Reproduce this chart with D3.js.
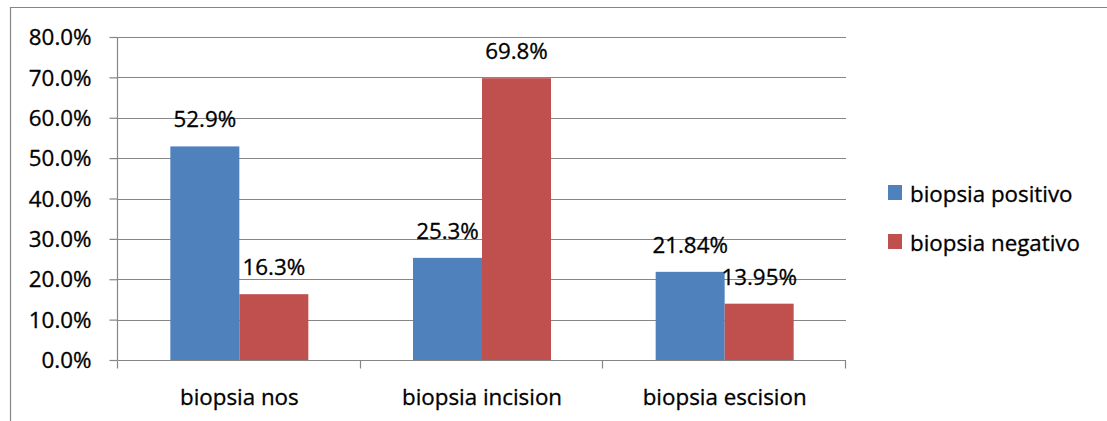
<!DOCTYPE html>
<html>
<head>
<meta charset="utf-8">
<script src="https://cdn.jsdelivr.net/npm/d3@7"></script>
<style>
  html, body { margin: 0; padding: 0; background: #fff; }
  svg { display: block; }
  text { font-family: "Open Sans", "Noto Sans", sans-serif; fill: #000; stroke: #000; stroke-width: 0.3px; }
</style>
</head>
<body>
<svg id="chart" width="1107" height="421"></svg>
<script>
const categories = ["biopsia nos", "biopsia incision", "biopsia escision"];
const seriesNames = ["biopsia positivo", "biopsia negativo"];
const positivo = [52.9, 25.3, 21.84];
const negativo = [16.3, 69.8, 13.95];
const labelsPositivo = ["52.9%", "25.3%", "21.84%"];
const labelsNegativo = ["16.3%", "69.8%", "13.95%"];
const yTicks = [0, 10, 20, 30, 40, 50, 60, 70, 80];
const colors = ["#4F81BD", "#C0504D"];

const SX = 1.04;         // horizontal text stretch
const FS = 21.5;         // font size
const svg = d3.select("#chart");

// outer frame (top and left visible)
svg.append("path")
  .attr("d", "M10.5,421 V7.5 H1107")
  .attr("fill", "none").attr("stroke", "#868686").attr("stroke-width", 1.2);

const plot = { left: 118, right: 846, top: 37, bottom: 360 };
const x0 = d3.scaleBand().domain(categories).range([plot.left, plot.right]).paddingInner(0).paddingOuter(0);
const y = d3.scaleLinear().domain([0, 80]).range([plot.bottom, plot.top]);
const groupW = 138;
const x1 = d3.scaleBand().domain(seriesNames).range([0, groupW]);

function stretch(sel) {
  sel.each(function () {
    const t = d3.select(this);
    const xv = +t.attr("x") || 0, yv = +t.attr("y") || 0;
    t.attr("x", 0).attr("y", 0)
     .attr("transform", `translate(${xv},${yv}) scale(${SX},1)`);
  });
}

// gridlines
svg.append("g").selectAll("line").data(yTicks).join("line")
  .attr("x1", plot.left).attr("x2", plot.right)
  .attr("y1", d => Math.round(y(d)) + 0.5).attr("y2", d => Math.round(y(d)) + 0.5)
  .attr("stroke", "#868686").attr("stroke-width", 1.2);

// y axis
const yAxis = svg.append("g").attr("transform", `translate(${plot.left - 0.5},0)`)
  .call(d3.axisLeft(y).tickValues(yTicks).tickSize(8).tickPadding(0)
        .tickFormat(d => d.toFixed(1) + "%"));
yAxis.select(".domain").attr("stroke", "#868686").attr("stroke-width", 1.2)
  .attr("d", `M0,${plot.top}V${plot.bottom}`);
yAxis.selectAll(".tick line").attr("stroke", "#868686").attr("stroke-width", 1.2);
yAxis.selectAll(".tick text")
  .attr("font-size", FS).attr("font-family", "Open Sans")
  .attr("dy", null)
  .attr("x", -26).attr("y", 7.7).attr("fill", "#000")
  .attr("text-anchor", "end");
stretch(yAxis.selectAll(".tick text"));

// x axis
const xAxis = svg.append("g").attr("transform", `translate(0,${plot.bottom + 0.5})`)
  .call(d3.axisBottom(x0).tickSize(0).tickPadding(0));
xAxis.select(".domain").attr("stroke", "#868686").attr("stroke-width", 1.2)
  .attr("d", `M${plot.left},0H${plot.right}`);
xAxis.selectAll(".tick text")
  .attr("font-size", FS).attr("font-family", "Open Sans")
  .attr("dy", null).attr("y", 44.5).attr("fill", "#000");
stretch(xAxis.selectAll(".tick text"));
// category boundary ticks
const bounds = [plot.left, ...categories.map(c => x0(c) + x0.bandwidth())];
xAxis.append("g").selectAll("line").data(bounds).join("line")
  .attr("x1", d => Math.round(d) - 0.5).attr("x2", d => Math.round(d) - 0.5)
  .attr("y1", 0).attr("y2", 8)
  .attr("stroke", "#868686").attr("stroke-width", 1.2);

// bars
const data = categories.map((c, i) => ({
  cat: c,
  vals: [
    { s: seriesNames[0], v: positivo[i], lab: labelsPositivo[i], col: colors[0] },
    { s: seriesNames[1], v: negativo[i], lab: labelsNegativo[i], col: colors[1] }
  ]
}));
const groups = svg.append("g").selectAll("g").data(data).join("g")
  .attr("transform", d => `translate(${x0(d.cat) + (x0.bandwidth() - groupW) / 2},0)`);
groups.selectAll("rect").data(d => d.vals).join("rect")
  .attr("x", d => x1(d.s)).attr("width", x1.bandwidth())
  .attr("y", d => y(d.v)).attr("height", d => y(0) - y(d.v))
  .attr("fill", d => d.col);
const labs = groups.selectAll("text").data(d => d.vals).join("text")
  .attr("x", d => x1(d.s) + x1.bandwidth() / 2)
  .attr("y", d => y(d.v) - 19)
  .attr("text-anchor", "middle")
  .attr("font-size", FS)
  .text(d => d.lab);
stretch(labs);

// legend
const legend = svg.append("g").attr("transform", "translate(888,185)");
const li = legend.selectAll("g").data(seriesNames).join("g")
  .attr("transform", (d, i) => `translate(0,${i * 49})`);
li.append("rect").attr("width", 14).attr("height", 15).attr("fill", (d, i) => colors[i]);
const lt = li.append("text").attr("x", 22).attr("y", 16.5).attr("font-size", FS).text(d => d);
stretch(lt);
</script>
</body>
</html>
